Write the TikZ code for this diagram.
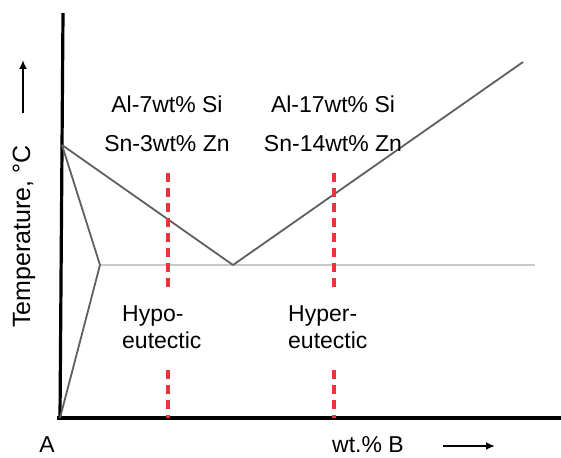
\documentclass[tikz,border=0pt]{standalone}
\usepackage{fontspec}
\setmainfont{Liberation Sans}
\usetikzlibrary{arrows.meta}
\definecolor{redd}{RGB}{232,52,62}
\definecolor{lineg}{RGB}{95,95,95}
\definecolor{eutg}{RGB}{200,200,200}
\begin{document}
\begin{tikzpicture}[x=1pt,y=-1pt,
  axis/.style={line width=3.2pt,black},
  phase/.style={line width=1.8pt,lineg,line join=round},
  reddash/.style={line width=3.2pt,redd,dash pattern=on 9pt off 6pt},
  lbl/.style={inner sep=0pt,font=\fontsize{23}{28}\selectfont},
  arr/.style={line width=2pt,-{Latex[length=9pt,width=8pt]}}]
\useasboundingbox (0,0) rectangle (561,457);
% key points
\coordinate (ytop) at (63,13);
\coordinate (orig) at (60,418);
\coordinate (xl) at (57,418);
\coordinate (xr) at (561,418);
\coordinate (mA) at (62,145);
\coordinate (sol) at (100,265);
\coordinate (eut) at (233,265);
\coordinate (liqB) at (523,62);
\coordinate (eutR) at (535,265);
% eutectic isotherm
\draw[eutg,line width=1.2pt] (sol) -- (eutR);
% axes
\draw[axis] (ytop) -- (orig);
\draw[axis] (xl) -- (xr);
% liquidus / solidus
\draw[phase] (mA) -- (eut) -- (liqB);
\draw[phase] (mA) -- (sol) -- (orig);
% red dashed composition lines
\coordinate (r1t) at (168,173); \coordinate (r1a) at (168,287);
\coordinate (r1b) at (168,370); \coordinate (r1e) at (168,418);
\coordinate (r2t) at (334,173); \coordinate (r2a) at (334,288);
\coordinate (r2b) at (334,370); \coordinate (r2e) at (334,418);
\draw[reddash] (r1t) -- (r1a);
\draw[reddash] (r1b) -- (r1e);
\draw[reddash] (r2t) -- (r2a);
\draw[reddash] (r2b) -- (r2e);
% labels
\node[lbl,anchor=base] (c1a) at (167,113) {Al-7wt\% Si};
\node[lbl,anchor=base] (c1b) at (167,151) {Sn-3wt\% Zn};
\node[lbl,anchor=base] (c2a) at (333,113) {Al-17wt\% Si};
\node[lbl,anchor=base] (c2b) at (333,151) {Sn-14wt\% Zn};
\node[lbl,anchor=base west] (hy1) at (122,321) {Hypo-};
\node[lbl,anchor=base west] (hy2) at (122,348) {eutectic};
\node[lbl,anchor=base west] (he1) at (288,321) {Hyper-};
\node[lbl,anchor=base west] (he2) at (288,348) {eutectic};
\node[lbl,anchor=base] (A) at (47,452) {A};
\node[lbl,anchor=base west] (wtB) at (332,452) {wt.\% B};
\node[inner sep=0pt,font=\fontsize{25}{30}\selectfont,rotate=90,anchor=base] (temp) at (30,236.5) {Temperature, °C};
% arrows
\coordinate (ua) at (23,113); \coordinate (ub) at (23,60);
\draw[arr] (ua) -- (ub);
\coordinate (ra) at (443,446); \coordinate (rb) at (495,446);
\draw[arr] (ra) -- (rb);
\end{tikzpicture}
\end{document}
